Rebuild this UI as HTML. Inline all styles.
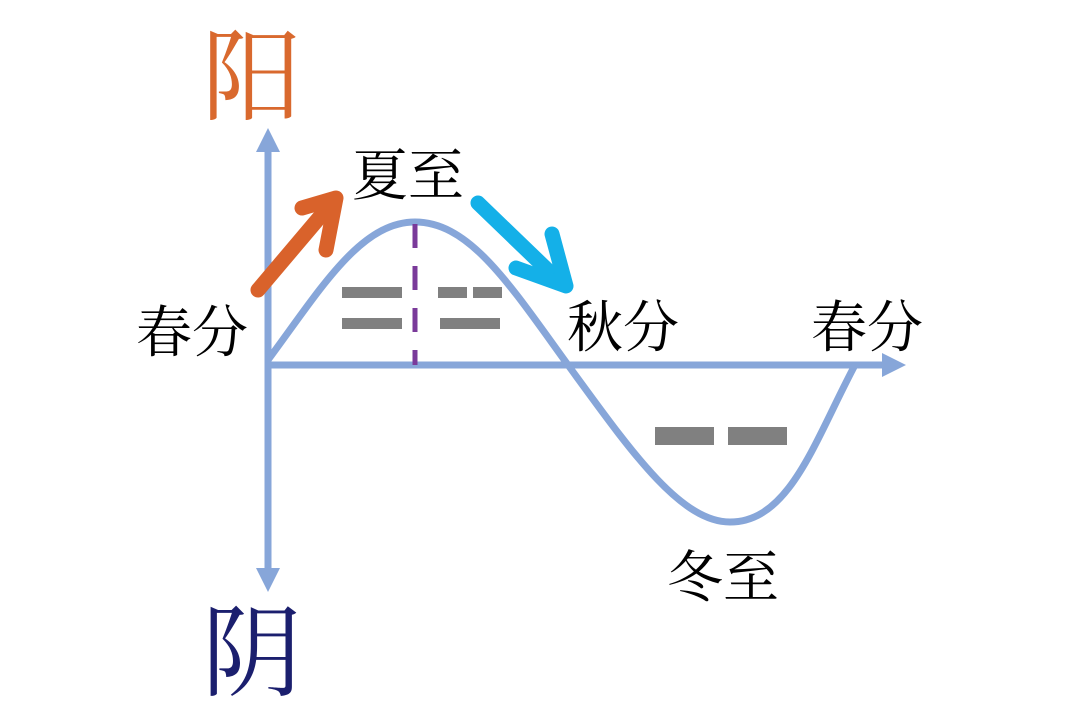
<!DOCTYPE html>
<html><head><meta charset="utf-8"><style>
html,body{margin:0;padding:0;background:#fff;width:1080px;height:720px;overflow:hidden}
text{font-family:"Liberation Serif","Noto Serif CJK SC",serif}
</style></head><body>
<svg width="1080" height="720" viewBox="0 0 1080 720">
<text x="252" y="112" font-size="100" fill="#d9692e" text-anchor="middle">阳</text>
<text x="252" y="688" font-size="100" fill="#1b1f6e" text-anchor="middle">阴</text>
<g stroke="#87a6d9" stroke-width="7" fill="none">
<line x1="268" y1="145" x2="268" y2="575"/>
<line x1="268" y1="365" x2="890" y2="365"/>
<path d="M268,360 C320,290 360,222 415,222 C470,222 510,285 568,365 C630,450 680,522 730,522 C790,522 815,440 855,365"/>
</g>
<polygon points="268,128 256,152 280,152" fill="#87a6d9"/>
<polygon points="268,592 256,568 280,568" fill="#87a6d9"/>
<polygon points="906,365 882,353 882,377" fill="#87a6d9"/>
<line x1="415" y1="224" x2="415" y2="365" stroke="#7a3a9a" stroke-width="5" stroke-dasharray="24,18"/>
<g fill="#808080">
<rect x="342" y="287" width="60" height="11"/>
<rect x="342" y="318" width="60" height="11"/>
<rect x="438" y="287" width="29" height="11"/>
<rect x="473" y="287" width="29" height="11"/>
<rect x="440" y="318" width="60" height="11"/>
<rect x="655" y="427" width="59" height="18"/>
<rect x="728" y="427" width="59" height="18"/>
</g>
<g stroke="#d9622b" stroke-width="15" stroke-linecap="round" fill="none" stroke-linejoin="round">
<line x1="258" y1="290" x2="330" y2="205"/>
<polyline points="302,208 336,198 326,250"/>
</g>
<g stroke="#14b0e8" stroke-width="15" stroke-linecap="round" fill="none" stroke-linejoin="round">
<line x1="478" y1="203" x2="560" y2="282"/>
<polyline points="516,268 566,286 552,234"/>
</g>
<g font-size="56" fill="#000">
<text x="352" y="195">夏至</text>
<text x="136" y="352">春分</text>
<text x="567" y="347">秋分</text>
<text x="811" y="347">春分</text>
<text x="667" y="597">冬至</text>
</g>
</svg>
</body></html>
